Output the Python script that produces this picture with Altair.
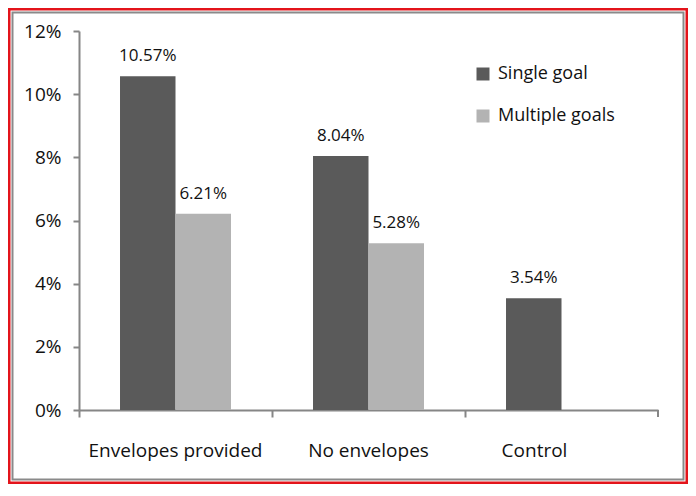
import altair as alt
import pandas as pd

categories = ["Envelopes provided", "No envelopes", "Control"]
series = ["Single goal", "Multiple goals"]
single_goal = [0.1057, 0.0804, 0.0354]
multiple_goals = [0.0621, 0.0528, None]
y_ticks = [0, 0.02, 0.04, 0.06, 0.08, 0.10, 0.12]
colors = ["#5a5a5a", "#b3b3b3"]

rows = []
for c, s, m in zip(categories, single_goal, multiple_goals):
    rows.append({"category": c, "series": series[0], "value": s})
    if m is not None:
        rows.append({"category": c, "series": series[1], "value": m})
df = pd.DataFrame(rows)

FONT = "Open Sans"
W, H = 579, 379
AX = "#868686"

x_enc = alt.X(
    "category:N",
    sort=categories,
    title=None,
    scale=alt.Scale(paddingInner=0, paddingOuter=0),
    axis=alt.Axis(
        bandPosition=0,
        labelAngle=0,
        labelFont=FONT,
        labelFontSize=19,
        labelColor="#111111",
        labelBaseline="alphabetic",
        labelPadding=39,
        labelOffset={"condition": {"test": "datum.value === 'Control'", "value": -27}, "value": 0},
        tickSize=7,
        tickWidth=2,
        tickColor=AX,
        domainColor=AX,
        domainWidth=2,
    ),
)
xoff = alt.XOffset("series:N", sort=series, scale=alt.Scale(paddingInner=0, paddingOuter=0.739))
y_enc = alt.Y(
    "value:Q",
    title=None,
    scale=alt.Scale(domain=[0, 0.12], nice=False),
    axis=alt.Axis(
        values=y_ticks,
        format=".0%",
        grid=False,
        labelFont=FONT,
        labelFontSize=19,
        labelColor="#111111",
        labelPadding=12,
        tickSize=6,
        tickWidth=2,
        tickColor=AX,
        domainColor=AX,
        domainWidth=2,
    ),
)

bars = alt.Chart(df).mark_bar().encode(
    x=x_enc,
    xOffset=xoff,
    y=y_enc,
    color=alt.Color(
        "series:N",
        sort=series,
        scale=alt.Scale(domain=series, range=colors),
        legend=alt.Legend(
            title=None,
            orient="none",
            legendX=395,
            legendY=34,
            symbolType="square",
            symbolSize=169,
            symbolStrokeWidth=0,
            labelFont=FONT,
            labelFontSize=18,
            labelColor="#111111",
            labelOffset=6,
            rowPadding=24,
            padding=0,
        ),
    ),
)

labels = alt.Chart(df).mark_text(
    font=FONT, fontSize=17, color="#111111", baseline="alphabetic", dy=-15
).encode(
    x=alt.X("category:N", sort=categories),
    xOffset=alt.XOffset("series:N", sort=series),
    y="value:Q",
    text=alt.Text("value:Q", format=".2%"),
)

end_tick = alt.Chart(alt.Data(values=[{}])).mark_rule(color=AX, strokeWidth=2).encode(
    x=alt.value(W), y=alt.value(H), y2=alt.value(H + 7)
)

frame = alt.Chart(alt.Data(values=[{}])).mark_rect(
    fillOpacity=0, stroke="#8a8a8a", strokeWidth=2
).encode(x=alt.value(-66.5), x2=alt.value(604.5), y=alt.value(-18.5), y2=alt.value(448.5))

red = alt.Chart(alt.Data(values=[{}])).mark_rect(
    fillOpacity=0, stroke="#e3141b", strokeWidth=2.5
).encode(x=alt.value(-69.75), x2=alt.value(607.75), y=alt.value(-21.75), y2=alt.value(451.75))

chart = (
    alt.layer(red, frame, bars, labels, end_tick)
    .properties(
        width=W,
        height=H,
        padding={"left": 71, "top": 23, "right": 30, "bottom": 74},
        autosize="none",
        background="white",
    )
    .configure_view(stroke=None)
)

chart.save("out.html", embed_options={"renderer": "svg", "actions": False})
